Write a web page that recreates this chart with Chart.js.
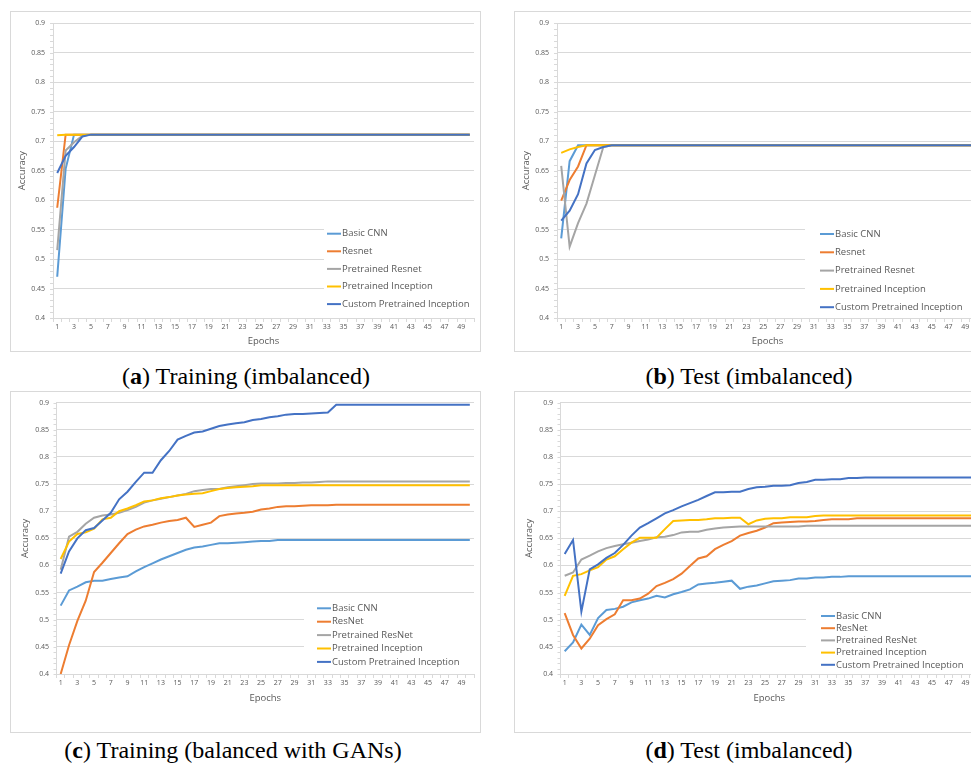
<!DOCTYPE html>
<html>
<head>
<meta charset="utf-8">
<script src="https://cdn.jsdelivr.net/npm/chart.js@4.4.1/dist/chart.umd.min.js"></script>
<style>
  body { margin: 0; width: 971px; height: 771px; overflow: hidden; background: #fff; position: relative; }
  .box { position: absolute; border: 1px solid #d9d9d9; box-sizing: border-box; }
  canvas { position: absolute; }
  .cap { position: absolute; font-family: "Liberation Serif", serif; font-size: 24px; line-height: 24px;
         color: #000; transform: translateX(-50%); white-space: nowrap; }
</style>
</head>
<body>
<div class="box" style="left:10px;top:11px;width:471px;height:341px"></div>
<div class="box" style="left:514px;top:11px;width:471px;height:341px"></div>
<div class="box" style="left:10px;top:391px;width:471px;height:342px"></div>
<div class="box" style="left:514px;top:391px;width:471px;height:342px"></div>

<canvas id="chartA" width="471" height="341" style="left:10px;top:11px"></canvas>
<canvas id="chartB" width="471" height="341" style="left:514px;top:11px"></canvas>
<canvas id="chartC" width="471" height="342" style="left:10px;top:391px"></canvas>
<canvas id="chartD" width="471" height="342" style="left:514px;top:391px"></canvas>

<div class="cap" style="left:246px;top:364px">(<b>a</b>) Training (imbalanced)</div>
<div class="cap" style="left:749px;top:364px">(<b>b</b>) Test (imbalanced)</div>
<div class="cap" style="left:233px;top:738px">(<b>c</b>) Training (balanced with GANs)</div>
<div class="cap" style="left:749px;top:738px">(<b>d</b>) Test (imbalanced)</div>

<script>
const epochs = [1, 2, 3, 4, 5, 6, 7, 8, 9, 10, 11, 12, 13, 14, 15, 16, 17, 18, 19, 20,
  21, 22, 23, 24, 25, 26, 27, 28, 29, 30, 31, 32, 33, 34, 35, 36, 37, 38, 39, 40,
  41, 42, 43, 44, 45, 46, 47, 48, 49, 50];

const namesImb = ["Basic CNN", "Resnet", "Pretrained Resnet", "Pretrained Inception", "Custom Pretrained Inception"];
const namesGan = ["Basic CNN", "ResNet", "Pretrained ResNet", "Pretrained Inception", "Custom Pretrained Inception"];
const colors = ["#5B9BD5", "#ED7D31", "#A5A5A5", "#FFC000", "#4472C4"];

// (a) training, imbalanced
const aBasic = [0.470, 0.653, 0.711, 0.711, 0.711, 0.711, 0.711, 0.711, 0.711, 0.711,
  0.711, 0.711, 0.711, 0.711, 0.711, 0.711, 0.711, 0.711, 0.711, 0.711,
  0.711, 0.711, 0.711, 0.711, 0.711, 0.711, 0.711, 0.711, 0.711, 0.711,
  0.711, 0.711, 0.711, 0.711, 0.711, 0.711, 0.711, 0.711, 0.711, 0.711,
  0.711, 0.711, 0.711, 0.711, 0.711, 0.711, 0.711, 0.711, 0.711, 0.711];
const aResnet = [0.587, 0.711, 0.711, 0.711, 0.711, 0.711, 0.711, 0.711, 0.711, 0.711,
  0.711, 0.711, 0.711, 0.711, 0.711, 0.711, 0.711, 0.711, 0.711, 0.711,
  0.711, 0.711, 0.711, 0.711, 0.711, 0.711, 0.711, 0.711, 0.711, 0.711,
  0.711, 0.711, 0.711, 0.711, 0.711, 0.711, 0.711, 0.711, 0.711, 0.711,
  0.711, 0.711, 0.711, 0.711, 0.711, 0.711, 0.711, 0.711, 0.711, 0.711];
const aPreResnet = [0.515, 0.684, 0.698, 0.709, 0.711, 0.711, 0.711, 0.711, 0.711, 0.711,
  0.711, 0.711, 0.711, 0.711, 0.711, 0.711, 0.711, 0.711, 0.711, 0.711,
  0.711, 0.711, 0.711, 0.711, 0.711, 0.711, 0.711, 0.711, 0.711, 0.711,
  0.711, 0.711, 0.711, 0.711, 0.711, 0.711, 0.711, 0.711, 0.711, 0.711,
  0.711, 0.711, 0.711, 0.711, 0.711, 0.711, 0.711, 0.711, 0.711, 0.711];
const aPreIncep = [0.710, 0.711, 0.711, 0.711, 0.711, 0.711, 0.711, 0.711, 0.711, 0.711,
  0.711, 0.711, 0.711, 0.711, 0.711, 0.711, 0.711, 0.711, 0.711, 0.711,
  0.711, 0.711, 0.711, 0.711, 0.711, 0.711, 0.711, 0.711, 0.711, 0.711,
  0.711, 0.711, 0.711, 0.711, 0.711, 0.711, 0.711, 0.711, 0.711, 0.711,
  0.711, 0.711, 0.711, 0.711, 0.711, 0.711, 0.711, 0.711, 0.711, 0.711];
const aCustom = [0.646, 0.675, 0.690, 0.708, 0.711, 0.711, 0.711, 0.711, 0.711, 0.711,
  0.711, 0.711, 0.711, 0.711, 0.711, 0.711, 0.711, 0.711, 0.711, 0.711,
  0.711, 0.711, 0.711, 0.711, 0.711, 0.711, 0.711, 0.711, 0.711, 0.711,
  0.711, 0.711, 0.711, 0.711, 0.711, 0.711, 0.711, 0.711, 0.711, 0.711,
  0.711, 0.711, 0.711, 0.711, 0.711, 0.711, 0.711, 0.711, 0.711, 0.711];

// (b) test, imbalanced
const bBasic = [0.535, 0.666, 0.693, 0.693, 0.693, 0.693, 0.693, 0.693, 0.693, 0.693,
  0.693, 0.693, 0.693, 0.693, 0.693, 0.693, 0.693, 0.693, 0.693, 0.693,
  0.693, 0.693, 0.693, 0.693, 0.693, 0.693, 0.693, 0.693, 0.693, 0.693,
  0.693, 0.693, 0.693, 0.693, 0.693, 0.693, 0.693, 0.693, 0.693, 0.693,
  0.693, 0.693, 0.693, 0.693, 0.693, 0.693, 0.693, 0.693, 0.693, 0.693];
const bResnet = [0.599, 0.634, 0.657, 0.693, 0.693, 0.693, 0.693, 0.693, 0.693, 0.693,
  0.693, 0.693, 0.693, 0.693, 0.693, 0.693, 0.693, 0.693, 0.693, 0.693,
  0.693, 0.693, 0.693, 0.693, 0.693, 0.693, 0.693, 0.693, 0.693, 0.693,
  0.693, 0.693, 0.693, 0.693, 0.693, 0.693, 0.693, 0.693, 0.693, 0.693,
  0.693, 0.693, 0.693, 0.693, 0.693, 0.693, 0.693, 0.693, 0.693, 0.693];
const bPreResnet = [0.658, 0.521, 0.561, 0.594, 0.642, 0.690, 0.693, 0.693, 0.693, 0.693,
  0.693, 0.693, 0.693, 0.693, 0.693, 0.693, 0.693, 0.693, 0.693, 0.693,
  0.693, 0.693, 0.693, 0.693, 0.693, 0.693, 0.693, 0.693, 0.693, 0.693,
  0.693, 0.693, 0.693, 0.693, 0.693, 0.693, 0.693, 0.693, 0.693, 0.693,
  0.693, 0.693, 0.693, 0.693, 0.693, 0.693, 0.693, 0.693, 0.693, 0.693];
const bPreIncep = [0.680, 0.686, 0.690, 0.693, 0.693, 0.693, 0.693, 0.693, 0.693, 0.693,
  0.693, 0.693, 0.693, 0.693, 0.693, 0.693, 0.693, 0.693, 0.693, 0.693,
  0.693, 0.693, 0.693, 0.693, 0.693, 0.693, 0.693, 0.693, 0.693, 0.693,
  0.693, 0.693, 0.693, 0.693, 0.693, 0.693, 0.693, 0.693, 0.693, 0.693,
  0.693, 0.693, 0.693, 0.693, 0.693, 0.693, 0.693, 0.693, 0.693, 0.693];
const bCustom = [0.565, 0.582, 0.610, 0.662, 0.685, 0.690, 0.693, 0.693, 0.693, 0.693,
  0.693, 0.693, 0.693, 0.693, 0.693, 0.693, 0.693, 0.693, 0.693, 0.693,
  0.693, 0.693, 0.693, 0.693, 0.693, 0.693, 0.693, 0.693, 0.693, 0.693,
  0.693, 0.693, 0.693, 0.693, 0.693, 0.693, 0.693, 0.693, 0.693, 0.693,
  0.693, 0.693, 0.693, 0.693, 0.693, 0.693, 0.693, 0.693, 0.693, 0.693];

// (c) training, balanced with GANs
const cBasic = [0.526, 0.554, 0.561, 0.569, 0.572, 0.572, 0.575, 0.578, 0.580, 0.589,
  0.597, 0.604, 0.611, 0.617, 0.623, 0.629, 0.633, 0.635, 0.638, 0.641,
  0.641, 0.642, 0.643, 0.644, 0.645, 0.645, 0.647, 0.647, 0.647, 0.647,
  0.647, 0.647, 0.647, 0.647, 0.647, 0.647, 0.647, 0.647, 0.647, 0.647,
  0.647, 0.647, 0.647, 0.647, 0.647, 0.647, 0.647, 0.647, 0.647, 0.647];
const cResnet = [0.400, 0.453, 0.498, 0.535, 0.588, 0.605, 0.623, 0.641, 0.658, 0.666,
  0.672, 0.675, 0.679, 0.682, 0.684, 0.688, 0.671, 0.675, 0.679, 0.691,
  0.694, 0.696, 0.697, 0.699, 0.703, 0.705, 0.708, 0.709, 0.709, 0.710,
  0.711, 0.711, 0.711, 0.712, 0.712, 0.712, 0.712, 0.712, 0.712, 0.712,
  0.712, 0.712, 0.712, 0.712, 0.712, 0.712, 0.712, 0.712, 0.712, 0.712];
const cPreResnet = [0.592, 0.653, 0.662, 0.677, 0.688, 0.692, 0.694, 0.697, 0.702, 0.708,
  0.716, 0.720, 0.723, 0.726, 0.729, 0.732, 0.737, 0.739, 0.741, 0.741,
  0.744, 0.746, 0.748, 0.750, 0.751, 0.751, 0.751, 0.752, 0.752, 0.753,
  0.753, 0.754, 0.755, 0.755, 0.755, 0.755, 0.755, 0.755, 0.755, 0.755,
  0.755, 0.755, 0.755, 0.755, 0.755, 0.755, 0.755, 0.755, 0.755, 0.755];
const cPreIncep = [0.612, 0.644, 0.658, 0.661, 0.668, 0.685, 0.688, 0.700, 0.705, 0.711,
  0.718, 0.720, 0.724, 0.726, 0.729, 0.731, 0.732, 0.733, 0.737, 0.741,
  0.743, 0.744, 0.745, 0.746, 0.748, 0.748, 0.748, 0.748, 0.748, 0.748,
  0.748, 0.748, 0.748, 0.748, 0.748, 0.748, 0.748, 0.748, 0.748, 0.748,
  0.748, 0.748, 0.748, 0.748, 0.748, 0.748, 0.748, 0.748, 0.748, 0.748];
const cCustom = [0.585, 0.626, 0.650, 0.665, 0.669, 0.683, 0.697, 0.722, 0.736, 0.754,
  0.771, 0.771, 0.794, 0.811, 0.832, 0.839, 0.845, 0.847, 0.852, 0.857,
  0.860, 0.862, 0.864, 0.868, 0.870, 0.873, 0.875, 0.878, 0.879, 0.879,
  0.880, 0.881, 0.882, 0.896, 0.896, 0.896, 0.896, 0.896, 0.896, 0.896,
  0.896, 0.896, 0.896, 0.896, 0.896, 0.896, 0.896, 0.896, 0.896, 0.896];

// (d) test, imbalanced
const dBasic = [0.442, 0.458, 0.491, 0.472, 0.503, 0.518, 0.520, 0.524, 0.532, 0.536,
  0.539, 0.544, 0.541, 0.547, 0.551, 0.556, 0.565, 0.567, 0.568, 0.570,
  0.572, 0.557, 0.561, 0.563, 0.567, 0.571, 0.572, 0.573, 0.576, 0.576,
  0.578, 0.578, 0.579, 0.579, 0.580, 0.580, 0.580, 0.580, 0.580, 0.580,
  0.580, 0.580, 0.580, 0.580, 0.580, 0.580, 0.580, 0.580, 0.580, 0.580];
const dResnet = [0.512, 0.472, 0.447, 0.465, 0.490, 0.501, 0.510, 0.536, 0.536, 0.539,
  0.548, 0.562, 0.568, 0.575, 0.585, 0.599, 0.613, 0.617, 0.630, 0.638,
  0.645, 0.655, 0.660, 0.664, 0.670, 0.678, 0.679, 0.680, 0.681, 0.681,
  0.682, 0.684, 0.685, 0.685, 0.685, 0.687, 0.687, 0.687, 0.687, 0.687,
  0.687, 0.687, 0.687, 0.687, 0.687, 0.687, 0.687, 0.687, 0.687, 0.687];
const dPreResnet = [0.581, 0.587, 0.611, 0.618, 0.626, 0.632, 0.636, 0.639, 0.642, 0.645,
  0.648, 0.652, 0.653, 0.656, 0.661, 0.662, 0.662, 0.666, 0.668, 0.670,
  0.671, 0.672, 0.672, 0.672, 0.672, 0.672, 0.672, 0.672, 0.672, 0.673,
  0.673, 0.673, 0.673, 0.673, 0.673, 0.673, 0.673, 0.673, 0.673, 0.673,
  0.673, 0.673, 0.673, 0.673, 0.673, 0.673, 0.673, 0.673, 0.673, 0.673];
const dPreIncep = [0.544, 0.581, 0.584, 0.591, 0.597, 0.611, 0.617, 0.630, 0.642, 0.651,
  0.651, 0.651, 0.667, 0.682, 0.683, 0.684, 0.684, 0.685, 0.687, 0.687,
  0.688, 0.688, 0.676, 0.683, 0.686, 0.687, 0.687, 0.689, 0.689, 0.689,
  0.691, 0.692, 0.692, 0.692, 0.692, 0.692, 0.692, 0.692, 0.692, 0.692,
  0.692, 0.692, 0.692, 0.692, 0.692, 0.692, 0.692, 0.692, 0.692, 0.692];
const dCustom = [0.621, 0.647, 0.515, 0.593, 0.602, 0.614, 0.623, 0.638, 0.655, 0.670,
  0.678, 0.687, 0.696, 0.702, 0.709, 0.715, 0.721, 0.728, 0.735, 0.735,
  0.736, 0.736, 0.741, 0.744, 0.745, 0.747, 0.747, 0.748, 0.752, 0.754,
  0.758, 0.758, 0.759, 0.759, 0.761, 0.761, 0.762, 0.762, 0.762, 0.762,
  0.762, 0.762, 0.762, 0.762, 0.762, 0.762, 0.762, 0.762, 0.762, 0.762];

const FONT = "'Open Sans', sans-serif";
const GREY_TEXT = "#595959";
const GRID = "#d9d9d9";

// small 0.01 marks on the left of the value axis, like Excel's minor ticks
const minorTicks = {
  id: "minorTicks",
  afterDraw(chart) {
    const y = chart.scales.y;
    const ctx = chart.ctx;
    ctx.save();
    ctx.strokeStyle = GRID;
    ctx.lineWidth = 1;
    for (let v = 40; v <= 90; v++) {
      const py = Math.round(y.getPixelForValue(v / 100)) + 0.5;
      ctx.beginPath();
      ctx.moveTo(y.right - 3, py);
      ctx.lineTo(y.right, py);
      ctx.stroke();
    }
    ctx.restore();
  }
};

// legend drawn inside the plot, with white background over the gridlines
function boxLegend(lg) {
  return {
    id: "boxLegend",
    beforeDatasetsDraw(chart) {
      chart.ctx.save();
      chart.ctx.fillStyle = "#fff";
      chart.ctx.fillRect(lg.x, lg.y, lg.w, lg.h);
      chart.ctx.restore();
    },
    afterDraw(chart) {
      const ctx = chart.ctx;
      ctx.save();
      ctx.font = "9.5px " + FONT;
      ctx.textBaseline = "middle";
      ctx.fillStyle = GREY_TEXT;
      chart.data.datasets.forEach((ds, i) => {
        const yy = lg.row0 + i * lg.gap;
        ctx.strokeStyle = ds.borderColor;
        ctx.lineWidth = 2;
        ctx.beginPath();
        ctx.moveTo(lg.sx, yy);
        ctx.lineTo(lg.sx + 14, yy);
        ctx.stroke();
        ctx.fillText(ds.label, lg.sx + 15, yy);
      });
      ctx.restore();
    }
  };
}

function makeChart(id, names, series, lay, lg) {
  const ctx = document.getElementById(id).getContext("2d");
  new Chart(ctx, {
    type: "line",
    data: {
      labels: epochs,
      datasets: series.map((s, i) => ({
        label: names[i],
        data: s,
        borderColor: colors[i],
        backgroundColor: colors[i],
        borderWidth: 2,
        pointRadius: 0,
        fill: false,
        tension: 0,
        order: 4 - i
      }))
    },
    options: {
      responsive: false,
      animation: false,
      devicePixelRatio: 1,
      layout: { padding: lay.pad },
      plugins: { legend: { display: false }, tooltip: { enabled: false } },
      scales: {
        x: {
          offset: true,
          grid: { offset: true, drawOnChartArea: false, color: GRID, tickLength: 4 },
          border: { color: GRID },
          ticks: {
            autoSkip: false, maxRotation: 0, padding: 1, color: GREY_TEXT,
            font: { family: FONT, size: 7 },
            callback: function (v, i) { return i % 2 === 0 ? this.getLabelForValue(v) : ""; }
          },
          title: { display: true, text: "Epochs", color: GREY_TEXT, padding: 0, font: { family: FONT, size: 9.5 } },
          afterFit: s => { s.height = lay.xh; }
        },
        y: {
          min: 0.4, max: 0.9,
          grid: { color: GRID, drawTicks: false },
          border: { color: GRID },
          ticks: {
            stepSize: 0.05, padding: lay.tp, color: GREY_TEXT,
            font: { family: FONT, size: 7 },
            callback: v => String(+v.toFixed(2))
          },
          title: { display: true, text: "Accuracy", color: GREY_TEXT, padding: 0, font: { family: FONT, size: 9.5 } },
          afterFit: s => { s.width = lay.yw; }
        }
      }
    },
    plugins: [minorTicks, boxLegend(lg)]
  });
}

const layTop = { pad: { left: 7, top: 8, right: 7, bottom: 5 }, yw: 36, xh: 29, tp: 8 };
const layBottom = { pad: { left: 10, top: 8, right: 7, bottom: 29 }, yw: 36.5, xh: 30, tp: 7.5 };

makeChart("chartA", namesImb, [aBasic, aResnet, aPreResnet, aPreIncep, aCustom], layTop,
  { x: 314, y: 212, w: 150, h: 90, sx: 317, row0: 222.7, gap: 17.6 });
makeChart("chartB", namesImb, [bBasic, bResnet, bPreResnet, bPreIncep, bCustom], layTop,
  { x: 291, y: 212, w: 180, h: 92, sx: 306, row0: 223, gap: 18.3 });
makeChart("chartC", namesGan, [cBasic, cResnet, cPreResnet, cPreIncep, cCustom], layBottom,
  { x: 294, y: 206, w: 170, h: 72, sx: 307, row0: 217.3, gap: 13.4 });
makeChart("chartD", namesGan, [dBasic, dResnet, dPreResnet, dPreIncep, dCustom], layBottom,
  { x: 292, y: 210, w: 171, h: 70, sx: 307, row0: 225, gap: 12.2 });
</script>
</body>
</html>
